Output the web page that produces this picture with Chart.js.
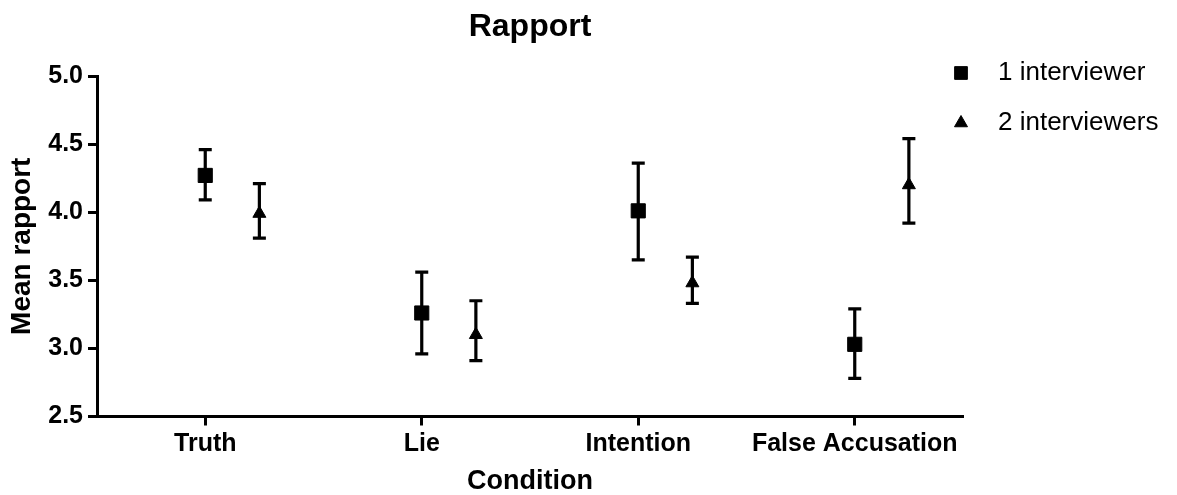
<!DOCTYPE html>
<html>
<head>
<meta charset="utf-8">
<title>Rapport</title>
<script src="https://cdn.jsdelivr.net/npm/chart.js@4.4.1/dist/chart.umd.min.js"></script>
<style>
    body { margin: 0; background: #fff; }
    #wrap { width: 1177px; height: 495px; }
</style>
</head>
<body>
<div id="wrap"><canvas id="chart" width="1177" height="495"></canvas></div>
<script>
// === DATEN ===
const CATEGORIES = ['Truth', 'Lie', 'Intention', 'False Accusation'];
const SERIES_NAMES = ['1 interviewer', '2 interviewers'];

// 1 interviewer
const ONE_MEAN = [4.27, 3.26, 4.01, 3.03];
const ONE_LOW = [4.09, 2.96, 3.65, 2.78];
const ONE_HIGH = [4.46, 3.56, 4.36, 3.29];

// 2 interviewers
const TWO_MEAN = [3.99, 3.10, 3.48, 4.20];
const TWO_LOW = [3.81, 2.91, 3.33, 3.92];
const TWO_HIGH = [4.21, 3.35, 3.67, 4.54];

const Y_TICKS = [2.5, 3.0, 3.5, 4.0, 4.5, 5.0];

// === STIL ===
const FONT = '"Liberation Sans", Arial, sans-serif';
const BLACK = '#000000';

// Punkte pro Serie bauen (zweite Serie leicht nach rechts versetzt)
function buildPoints(means, lows, highs, shift) {
    return means.map((m, i) => ({ x: i + shift, y: m, lo: lows[i], hi: highs[i] }));
}

// Fehlerbalken unter die Marker zeichnen
const errorBarPlugin = {
    id: 'errorBars',
    beforeDatasetsDraw(chart) {
        const { ctx, scales: { x, y } } = chart;
        const cap = 6.5;
        ctx.save();
        ctx.strokeStyle = BLACK;
        ctx.lineWidth = 3.2;
        chart.data.datasets.forEach(ds => {
            ds.data.forEach(p => {
                const px = x.getPixelForValue(p.x);
                const top = y.getPixelForValue(p.hi);
                const bot = y.getPixelForValue(p.lo);
                ctx.beginPath();
                ctx.moveTo(px, top);
                ctx.lineTo(px, bot);
                ctx.moveTo(px - cap, top);
                ctx.lineTo(px + cap, top);
                ctx.moveTo(px - cap, bot);
                ctx.lineTo(px + cap, bot);
                ctx.stroke();
            });
        });
        ctx.restore();
    }
};

// Legende oben rechts (wie im Original, ohne Rahmen)
const legendPlugin = {
    id: 'sideLegend',
    afterDraw(chart) {
        const { ctx, chartArea } = chart;
        const mx = chartArea.right - 2;
        const rows = [chartArea.top - 3, chartArea.top + 47];
        ctx.save();
        ctx.fillStyle = BLACK;
        ctx.strokeStyle = BLACK;
        ctx.font = '26px ' + FONT;
        ctx.textBaseline = 'alphabetic';
        chart.data.datasets.forEach((ds, i) => {
            const my = rows[i];
            Chart.helpers.drawPoint(ctx, {
                pointStyle: ds.pointStyle,
                radius: i === 0 ? 9 : 7.5,
                rotation: 0,
                borderWidth: 1
            }, mx, my);
            ctx.fillText(ds.label, mx + 37, my + 7);
        });
        ctx.restore();
    }
};

const datasets = [
    {
        label: SERIES_NAMES[0],
        data: buildPoints(ONE_MEAN, ONE_LOW, ONE_HIGH, 0),
        pointStyle: 'rect',
        pointRadius: 10,
        backgroundColor: BLACK,
        borderColor: BLACK,
        borderWidth: 1,
        showLine: false
    },
    {
        label: SERIES_NAMES[1],
        data: buildPoints(TWO_MEAN, TWO_LOW, TWO_HIGH, 0.25),
        pointStyle: 'triangle',
        pointRadius: 7.5,
        backgroundColor: BLACK,
        borderColor: BLACK,
        borderWidth: 1,
        showLine: false
    }
];

new Chart(document.getElementById('chart'), {
    type: 'scatter',
    data: { datasets },
    plugins: [errorBarPlugin, legendPlugin],
    options: {
        responsive: false,
        animation: false,
        devicePixelRatio: 1,
        layout: { padding: { left: 0, right: 214, top: 0, bottom: 0 } },
        plugins: {
            legend: { display: false },
            tooltip: { enabled: false },
            title: {
                display: true,
                text: 'Rapport',
                color: BLACK,
                fullSize: false,
                font: { family: FONT, size: 32, weight: 'bold' },
                padding: { top: 8, bottom: 29.6 }
            }
        },
        scales: {
            x: {
                type: 'linear',
                min: -0.5,
                max: 3.5,
                afterBuildTicks: (scale) => {
                    scale.ticks = CATEGORIES.map((_, i) => ({ value: i }));
                },
                afterFit: (scale) => { scale.height = 78.5; },
                ticks: {
                    autoSkip: false,
                    maxRotation: 0,
                    padding: 4,
                    color: BLACK,
                    font: { family: FONT, size: 25, weight: 'bold' },
                    callback: (v) => CATEGORIES[v]
                },
                grid: {
                    drawOnChartArea: false,
                    drawTicks: true,
                    tickLength: 9,
                    tickWidth: 3,
                    tickColor: BLACK
                },
                border: { display: true, color: BLACK, width: 3 },
                title: {
                    display: true,
                    text: 'Condition',
                    color: BLACK,
                    font: { family: FONT, size: 27, weight: 'bold', lineHeight: 1 },
                    padding: { top: 0, bottom: 0 }
                }
            },
            y: {
                min: 2.5,
                max: 5.0,
                afterBuildTicks: (scale) => {
                    scale.ticks = Y_TICKS.map(v => ({ value: v }));
                },
                afterFit: (scale) => { scale.width = 97; },
                ticks: {
                    padding: 5,
                    color: BLACK,
                    font: { family: FONT, size: 25, weight: 'bold' },
                    callback: (v) => Number(v).toFixed(1)
                },
                grid: {
                    drawOnChartArea: false,
                    drawTicks: true,
                    tickLength: 9,
                    tickWidth: 3,
                    tickColor: BLACK
                },
                border: { display: true, color: BLACK, width: 3 },
                title: {
                    display: true,
                    text: 'Mean rapport',
                    color: BLACK,
                    font: { family: FONT, size: 28, weight: 'bold' },
                    padding: { top: 5, bottom: 0 }
                }
            }
        }
    }
});
</script>
</body>
</html>
